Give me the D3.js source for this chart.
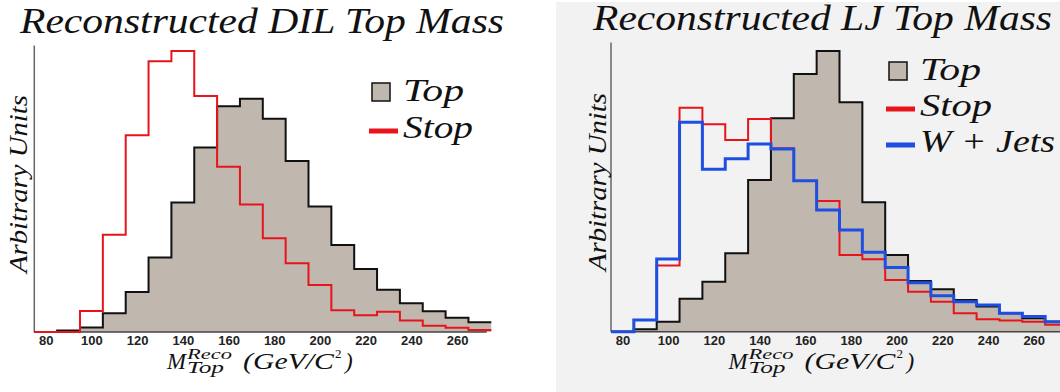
<!DOCTYPE html>
<html>
<head>
<meta charset="utf-8">
<script src="https://cdn.jsdelivr.net/npm/d3@7"></script>
<style>
  body { margin: 0; background: white; }
  svg { display: block; }
</style>
</head>
<body>
<script>
// bin lower edges (GeV), bins are 10 GeV wide
var binEdges = [75, 85, 95, 105, 115, 125, 135, 145, 155, 165, 175, 185, 195, 205, 215, 225, 235, 245, 255, 265];
var xTicks = [80, 100, 120, 140, 160, 180, 200, 220, 240, 260];

// DIL panel
var dilTop  = [0, 0.5, 1.6, 6.6, 14.0, 26.1, 45.4, 64.7, 79.2, 81.8, 74.8, 60.0, 44.0, 30.5, 22.1, 14.8, 10.1, 7.3, 5.0, 3.4];
var dilStop = [0, 0, 7.4, 34.1, 69.0, 95.0, 98.6, 82.8, 58.0, 44.7, 32.9, 24.1, 16.5, 7.6, 5.9, 7.1, 4.0, 2.2, 1.5, 0.7];

// LJ panel
var ljTop   = [0, 0.9, 3.5, 11.6, 17.5, 27.5, 53.2, 74.9, 90.4, 98.5, 80.5, 45.4, 26.9, 17.8, 14.9, 11.1, 8.8, 6.5, 4.7, 3.5];
var ljStop  = [0, 4.1, 23.2, 78.6, 72.8, 67.3, 74.6, 64.4, 52.9, 45.9, 26.9, 25.4, 18.1, 14.0, 10.5, 6.5, 4.4, 3.9, 3.5, 2.4];
var ljWJets = [0, 4.1, 25.5, 73.5, 57.0, 60.7, 65.9, 64.1, 53.0, 42.7, 35.7, 27.9, 22.5, 17.2, 12.6, 10.5, 9.4, 6.5, 5.3, 3.5];

var binWidth = 10;
var color_top = "#c0b7ae";
var color_stop = "#e8141b";
var color_wjets = "#1f4fe0";

var W = 1060, H = 392;
var svg = d3.select("body").append("svg")
    .attr("width", W)
    .attr("height", H);

// right panel has a light grey backdrop
svg.append("rect")
    .attr("x", 556).attr("y", 2)
    .attr("width", W - 556).attr("height", H - 2)
    .attr("fill", "#f2f2f2");

function toPoints(vals){
    let pts = binEdges.map((e, i) => [e, vals[i]]);
    pts.push([binEdges[binEdges.length - 1] + binWidth, vals[vals.length - 1]]);
    return pts;
}

// italic "math" text, widened a bit to look like LaTeX math italic
function mathText(g, x, y, size, len, str){
    let t = g.append("text")
        .attr("x", x).attr("y", y)
        .style("font-family", "'Liberation Serif'")
        .style("font-style", "italic")
        .style("font-size", size + "px")
        .style("fill", "#111")
        .text(str);
    if(len) t.attr("textLength", len).attr("lengthAdjust", "spacingAndGlyphs");
    return t;
}

function massLabel(g, x0){
    mathText(g, x0, 368.5, 23, 19, "M");
    mathText(g, x0 + 20, 359, 15, 45, "Reco");
    mathText(g, x0 + 20, 373, 16, 37, "Top");
    mathText(g, x0 + 76, 368.5, 23, 91, "(GeV/C");
    mathText(g, x0 + 168, 358, 13, null, "2").style("font-style", "normal");
    mathText(g, x0 + 178, 368.5, 23, null, ")");
}

function drawPanel(cfg){
    let g = svg.append("g");
    let x = d3.scaleLinear().domain([75, 273]).range([cfg.left, cfg.left + 198 * 2.285]);
    let y = d3.scaleLinear().domain([0, 100]).range([cfg.base, cfg.base - 285]);

    mathText(g, cfg.titleX, cfg.titleY, 35, cfg.titleLen, cfg.title);

    let area = d3.area().curve(d3.curveStepAfter)
        .x(d => x(d[0])).y0(y(0)).y1(d => y(d[1]));
    let line = d3.line().curve(d3.curveStepAfter)
        .x(d => x(d[0])).y(d => y(d[1]));

    // filled top histogram
    g.append("path").datum(toPoints(cfg.top))
        .attr("d", area).attr("fill", color_top);

    // axes
    g.append("line")
        .attr("x1", x(75)).attr("x2", x(75))
        .attr("y1", y(0)).attr("y2", y(cfg.yTop))
        .attr("stroke", "#666").attr("stroke-width", 1.5);
    g.append("line")
        .attr("x1", x(75)).attr("x2", x(273))
        .attr("y1", y(0)).attr("y2", y(0))
        .attr("stroke", "#444").attr("stroke-width", 1.5);

    g.append("path").datum(toPoints(cfg.top))
        .attr("d", line).attr("fill", "none")
        .attr("stroke", "#111").attr("stroke-width", 2);

    cfg.lines.forEach(s => {
        g.append("path").datum(toPoints(s.vals))
            .attr("d", line).attr("fill", "none")
            .attr("stroke", s.color).attr("stroke-width", s.width);
    });

    // tick labels
    let xAxis = d3.axisBottom(x).tickValues(xTicks).tickSize(0).tickPadding(4);
    let ax = g.append("g").attr("transform", "translate(0," + y(0) + ")").call(xAxis);
    ax.select(".domain").remove();
    ax.selectAll("text")
        .attr("fill", null)
        .style("font-family", "'Liberation Sans'")
        .style("font-weight", "bold")
        .style("font-size", "13px")
        .style("fill", "#222");

    massLabel(g, cfg.labelX);

    // y label
    mathText(g, 0, 0, 25, 178, "Arbitrary Units")
        .attr("transform", "translate(" + cfg.yLabX + "," + cfg.yLabY + ") rotate(-90)")
        .attr("text-anchor", "middle");

    // legend
    let lg = g.append("g");
    lg.append("rect")
        .attr("x", cfg.legX).attr("y", cfg.legY - 18)
        .attr("width", 18).attr("height", 18)
        .attr("fill", color_top).attr("stroke", "#111").attr("stroke-width", 1.5);
    mathText(lg, cfg.legX + 31, cfg.legY, 32, 61, "Top");
    cfg.lines.forEach((s, i) => {
        let yy = cfg.legY + (i + 1) * cfg.legStep;
        lg.append("line")
            .attr("x1", cfg.legX - 3).attr("x2", cfg.legX + 26)
            .attr("y1", yy - 7).attr("y2", yy - 7)
            .attr("stroke", s.color).attr("stroke-width", 5);
        mathText(lg, cfg.legX + 31, yy, 32, s.len, s.name);
    });
}

drawPanel({
    title: "Reconstructed DIL Top Mass", titleX: 20, titleY: 33, titleLen: 484,
    left: 34.3, base: 332, yTop: 100.5,
    top: dilTop,
    lines: [{name: "Stop", vals: dilStop, color: color_stop, width: 2, len: 70}],
    labelX: 167, yLabX: 27, yLabY: 184,
    legX: 372, legY: 101, legStep: 37
});

drawPanel({
    title: "Reconstructed LJ Top Mass", titleX: 593, titleY: 30, titleLen: 459,
    left: 611, base: 331.7, yTop: 101.5,
    top: ljTop,
    lines: [
        {name: "Stop", vals: ljStop, color: color_stop, width: 2, len: 72},
        {name: "W + Jets", vals: ljWJets, color: color_wjets, width: 3, len: 135}
    ],
    labelX: 728.5, yLabX: 606, yLabY: 182,
    legX: 889, legY: 80, legStep: 36
});
</script>
</body>
</html>
